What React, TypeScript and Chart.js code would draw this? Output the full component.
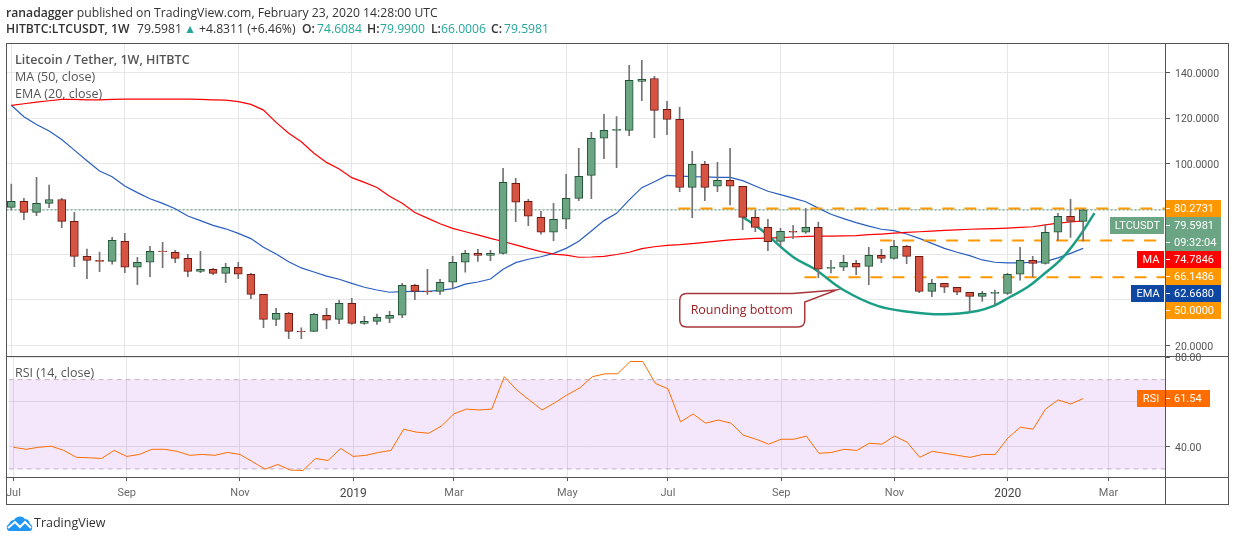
import { useEffect, useRef } from "react";
import { Chart, registerables } from "chart.js";

Chart.register(...registerables);

const opens = [
  80.7, 83.4, 78.5, 82.5, 84.2, 74.6, 59.2, 57.4, 57.0, 65.8,
  54.4, 56.6, 61.5, 60.9, 58.3, 52.6, 53.5, 51.7, 54.4, 51.3,
  42.5, 31.5, 34.1, 26.2, 26.2, 33.3, 31.5, 38.5, 29.7, 30.6,
  31.9, 33.3, 46.4, 43.8, 43.8, 47.8, 56.6, 60.5, 59.6, 60.5,
  91.3, 83.4, 76.3, 69.8, 75.5, 84.7, 94.8, 111.1, 114.6, 114.6,
  136.1, 137.4, 123.8, 119.4, 89.5, 99.6, 90.0, 92.6, 90.0, 76.3,
  71.9, 65.8, 70.2, 69.8, 71.9, 53.9, 54.4, 56.1, 54.8, 59.6,
  58.3, 63.6, 59.2, 43.8, 47.3, 45.6, 43.4, 41.6, 42.9, 42.9,
  51.3, 57.4, 56.1, 69.8, 76.8, 74.6,
];
const closes = [
  83.4, 78.5, 82.5, 84.2, 74.6, 59.2, 57.4, 57.0, 66.2, 54.4,
  56.6, 61.4, 61.2, 58.3, 52.6, 53.5, 51.7, 54.4, 51.3, 42.5,
  31.5, 34.1, 26.2, 26.1, 33.7, 31.1, 38.5, 29.7, 30.6, 32.4,
  33.3, 46.4, 43.8, 43.5, 47.8, 56.6, 60.5, 59.6, 60.5, 91.7,
  83.0, 76.8, 69.8, 75.5, 84.7, 94.4, 111.1, 114.6, 115.0, 136.6,
  137.0, 123.4, 119.4, 89.5, 99.6, 89.5, 92.6, 90.0, 76.3, 71.9,
  65.6, 70.2, 69.8, 71.9, 53.5, 54.4, 56.6, 54.4, 59.6, 58.3,
  63.6, 59.2, 43.8, 47.3, 45.6, 43.4, 41.6, 42.9, 43.4, 51.3,
  57.4, 56.1, 69.8, 76.8, 74.6, 79.6,
];
const highs = [
  91.0, 84.7, 93.9, 90.5, 84.7, 78.5, 62.4, 61.1, 67.5, 69.3,
  58.8, 63.6, 65.3, 61.8, 60.1, 61.4, 53.9, 56.1, 56.6, 51.7,
  42.5, 36.3, 34.6, 27.7, 34.1, 36.3, 39.8, 40.7, 32.8, 33.8,
  35.0, 47.3, 46.9, 53.5, 49.1, 59.2, 61.8, 62.3, 61.8, 97.9,
  93.5, 84.3, 79.0, 82.5, 95.2, 106.7, 113.7, 121.6, 120.7, 143.2,
  145.4, 138.3, 127.3, 124.7, 105.4, 101.0, 100.5, 106.7, 90.0, 79.4,
  75.5, 71.5, 72.8, 80.3, 74.3, 57.4, 59.6, 57.4, 63.2, 62.3,
  66.2, 64.0, 59.2, 49.1, 47.3, 45.6, 43.4, 43.8, 44.3, 51.7,
  63.2, 59.2, 73.3, 78.1, 84.3, 79.99,
];
const lows = [
  79.6, 75.3, 77.1, 80.6, 71.8, 54.6, 49.4, 52.4, 55.8, 52.0,
  46.7, 50.2, 54.2, 56.4, 50.2, 52.0, 51.1, 47.6, 49.4, 40.6,
  27.8, 28.7, 23.0, 23.0, 26.1, 27.4, 29.6, 29.2, 29.3, 29.2,
  30.0, 32.2, 40.1, 42.5, 42.5, 45.1, 52.2, 57.0, 57.3, 60.1,
  74.4, 72.7, 68.9, 66.1, 71.4, 83.7, 84.6, 102.1, 98.2, 112.2,
  127.6, 111.4, 112.7, 87.6, 76.2, 83.7, 87.6, 81.8, 70.9, 70.0,
  61.7, 63.5, 67.0, 69.3, 49.8, 51.9, 52.9, 51.1, 46.7, 56.4,
  57.9, 56.0, 43.2, 41.5, 43.2, 42.3, 35.0, 39.4, 38.1, 42.5,
  48.7, 50.3, 55.7, 66.2, 67.5, 66.0,
];
const ma50 = [
  125.6, 126.3, 127.0, 127.6, 128.2, 128.2, 128.0, 128.0, 128.2, 128.3,
  128.3, 128.3, 128.3, 128.3, 128.3, 128.2, 128.0, 127.9, 127.2, 126.0,
  123.5, 118.1, 113.3, 109.6, 104.5, 100.5, 97.6, 93.8, 91.7, 89.5,
  85.6, 82.5, 78.5, 76.0, 73.5, 71.5, 70.0, 68.6, 67.1, 65.7,
  64.2, 62.7, 61.3, 60.2, 59.7, 58.8, 58.9, 59.2, 60.0, 61.0,
  62.6, 63.4, 64.0, 64.3, 64.8, 65.3, 65.9, 66.4, 66.8, 67.1,
  67.2, 67.4, 67.7, 68.0, 68.1, 68.1, 68.2, 68.3, 68.7, 69.0,
  69.4, 69.7, 70.0, 70.3, 70.6, 70.8, 71.1, 71.3, 71.4, 71.6,
  71.9, 72.2, 73.0, 73.8, 74.3, 74.78,
];
const ema20 = [
  125.6, 120.6, 117.2, 114.3, 110.6, 105.9, 101.2, 96.7, 94.2, 90.1,
  87.2, 84.5, 82.5, 80.1, 76.9, 74.9, 72.8, 71.3, 69.3, 67.0,
  63.2, 60.2, 56.8, 54.1, 52.3, 50.5, 49.1, 47.3, 45.6, 44.4,
  43.4, 43.7, 43.8, 43.8, 44.2, 45.0, 47.0, 47.9, 49.2, 53.5,
  56.4, 57.9, 59.0, 60.5, 62.7, 65.8, 70.3, 74.9, 78.1, 84.0,
  89.4, 92.0, 94.8, 94.5, 94.2, 94.1, 93.9, 93.9, 92.5, 90.1,
  87.8, 86.3, 84.8, 83.2, 80.4, 77.7, 75.8, 74.0, 72.5, 71.1,
  70.5, 69.0, 67.1, 64.9, 62.7, 61.0, 59.5, 57.6, 56.6, 56.3,
  56.3, 56.6, 56.9, 58.5, 60.5, 62.67,
];
const rsi14 = [
  39.7, 38.8, 39.7, 40.2, 38.3, 35.2, 35.0, 34.7, 38.3, 35.6,
  36.5, 38.8, 38.8, 37.9, 36.1, 36.5, 36.1, 37.4, 36.5, 33.2,
  29.9, 32.0, 29.5, 29.3, 34.7, 33.8, 39.2, 35.6, 36.1, 37.4,
  38.3, 47.8, 46.5, 46.0, 49.2, 54.7, 56.8, 56.4, 56.8, 71.3,
  65.3, 60.8, 56.4, 59.6, 63.2, 66.3, 71.3, 72.6, 72.6, 78.1,
  78.1, 68.3, 65.9, 51.1, 54.6, 50.5, 51.9, 50.5, 45.1, 43.3,
  41.1, 43.3, 43.3, 44.7, 37.0, 37.4, 38.8, 38.3, 41.5, 41.1,
  44.7, 42.0, 35.2, 37.9, 37.0, 36.1, 35.2, 36.5, 36.5, 43.8,
  48.7, 47.8, 56.8, 60.9, 59.1, 61.54,
];

// hand drawn rounding bottom
const curveBars = [58.0, 59.4, 62.0, 63.7, 66.0, 68.7, 71.3, 73.9, 76.6, 77.9, 79.2, 80.6, 81.8, 83.2, 84.5, 85.9];
const curvePrices = [76.5, 71.2, 58.9, 53.6, 44.4, 37.4, 34.7, 33.7, 35.2, 37.4, 41.3, 45.7, 51.0, 57.6, 66.4, 78.2];

// support / resistance levels: price, first bar, last bar
const levelPrices = [80.2731, 66.1486, 50.0];
const levelStarts = [52.9, 68.9, 62.9];
const levelEnds = [91.57, 90.9, 91.57];

const lastPrice = 79.5981;
const tickBars = [0, 9, 18, 27, 35, 44, 52, 61, 70, 79, 87];
const tickLabels = ["Jul", "Sep", "Nov", "2019", "Mar", "May", "Jul", "Sep", "Nov", "2020", "Mar"];
const priceTicks = [20, 40, 60, 80, 100, 120, 140];
const rsiTicks = [40, 60, 80];

const tagValues = ["80.2731", "79.5981", "09:32:04", "74.7846", "66.1486", "62.6680", "50.0000"];
const tagNames = ["", "LTCUSDT", "", "MA", "", "EMA", ""];
const tagColors = ["#ff9800", "#6ba583", "#6ba583", "#ff0000", "#ff9800", "#0d47a1", "#ff9800"];
const tagNameWidths = [0, 55, 0, 28, 0, 34, 0];

const XMIN = -0.38;
const XMAX = 91.57;
const FONT = "Roboto, sans-serif";
const UI_FONT = "'Open Sans', sans-serif";
const TEXT = "#555555";
const GRID = "#e6e6e6";
const TEAL = "#26a69a";

const upColor = "#6ba583";
const upBorder = "#225437";
const downColor = "#d75442";
const downBorder = "#6b1a13";

const isUp = (i: number) => closes[i] >= opens[i];

const lineSet = (data: any[], color: string, order: number, extra: any = {}) => ({
  type: "line",
  data,
  borderColor: color,
  borderWidth: 1,
  pointRadius: 0,
  order,
  ...extra,
});

const priceTagsPlugin = {
  id: "priceTags",
  afterDraw(chart: any) {
    const ctx = chart.ctx;
    ctx.save();
    ctx.font = `11px ${FONT}`;
    ctx.textBaseline = "middle";
    tagValues.forEach((value, k) => {
      const top = 200 + k * 17;
      ctx.fillStyle = tagColors[k];
      ctx.fillRect(1166, top, 55, 17);
      ctx.fillStyle = "#ffffff";
      ctx.fillRect(1166, top + 8, 4, 1);
      ctx.fillText(value, 1174, top + 9);
      if (tagNames[k]) {
        const w = tagNameWidths[k];
        ctx.fillStyle = tagColors[k];
        ctx.fillRect(1165 - w, top, w - 1, 17);
        ctx.fillStyle = "#ffffff";
        ctx.textAlign = "center";
        ctx.fillText(tagNames[k], 1165 - w / 2, top + 9);
        ctx.textAlign = "left";
      }
    });
    ctx.restore();
  },
};

const calloutPlugin = {
  id: "callout",
  afterDatasetsDraw(chart: any) {
    const ctx = chart.ctx;
    // the tip points at the curve, the box hangs off it
    const tipX = chart.scales.x.getPixelForValue(65.46);
    const tipY = chart.scales.y.getPixelForValue(44.4);
    const left = tipX - 157;
    const right = tipX - 32;
    const top = tipY + 3.5;
    const bottom = tipY + 37;
    const r = 7;
    ctx.save();
    ctx.beginPath();
    ctx.moveTo(left + r, top);
    ctx.lineTo(right - 12, top);
    ctx.lineTo(tipX, tipY);
    ctx.lineTo(right, tipY + 12);
    ctx.lineTo(right, bottom - r);
    ctx.quadraticCurveTo(right, bottom, right - r, bottom);
    ctx.lineTo(left + r, bottom);
    ctx.quadraticCurveTo(left, bottom, left, bottom - r);
    ctx.lineTo(left, top + r);
    ctx.quadraticCurveTo(left, top, left + r, top);
    ctx.closePath();
    ctx.fillStyle = "#ffffff";
    ctx.fill();
    ctx.strokeStyle = "#a8383d";
    ctx.lineWidth = 1.5;
    ctx.stroke();
    ctx.fillStyle = "#9c1f26";
    ctx.font = `12.5px ${UI_FONT}`;
    ctx.textAlign = "center";
    ctx.textBaseline = "middle";
    ctx.fillText("Rounding bottom", (left + right) / 2 - 0.5, (top + bottom) / 2);
    ctx.restore();
  },
};

const rsiTagPlugin = {
  id: "rsiTag",
  afterDraw(chart: any) {
    const ctx = chart.ctx;
    const y = chart.scales.y.getPixelForValue(rsi14[rsi14.length - 1]);
    ctx.save();
    ctx.fillStyle = "#ff6d00";
    ctx.fillRect(1137, y - 8.5, 28, 17);
    ctx.fillRect(1166, y - 8.5, 44, 17);
    ctx.fillStyle = "#ffffff";
    ctx.fillRect(1166, y - 0.5, 4, 1);
    ctx.font = `11px ${FONT}`;
    ctx.textBaseline = "middle";
    ctx.textAlign = "center";
    ctx.fillText("RSI", 1151, y + 0.5);
    ctx.textAlign = "left";
    ctx.fillText("61.54", 1174, y + 0.5);
    ctx.restore();
  },
};

const xAxis = (showLabels: boolean, height: number) => ({
  type: "linear",
  min: XMIN,
  max: XMAX,
  offset: false,
  grid: {
    offset: false,
    color: GRID,
    drawTicks: showLabels,
    tickLength: 4,
    tickColor: TEXT,
  },
  border: { display: false },
  afterBuildTicks: (scale: any) => {
    scale.ticks = tickBars.map((value) => ({ value }));
  },
  afterFit: (scale: any) => {
    scale.height = height;
  },
  ticks: {
    display: showLabels,
    autoSkip: false,
    maxRotation: 0,
    padding: 6,
    color: (c: any) => (/^20/.test(c.tick.label) ? "#444444" : "#6a6a6a"),
    font: (c: any) => ({
      family: FONT,
      size: /^20/.test(String(c.tick?.label)) ? 12 : 11,
    }),
    callback: (value: number) => tickLabels[tickBars.indexOf(value)],
  },
});

const yAxis = (min: number, max: number, values: number[], digits: number, hide: number[]) => ({
  position: "right",
  min,
  max,
  grid: { color: GRID, tickLength: 4, tickColor: TEXT },
  border: { display: false },
  afterBuildTicks: (scale: any) => {
    scale.ticks = values.map((value) => ({ value }));
  },
  afterFit: (scale: any) => {
    scale.width = 68;
  },
  ticks: {
    color: TEXT,
    padding: 5,
    labelOffset: 1.5,
    font: { family: FONT, size: 10.5 },
    callback: (value: number) => (hide.includes(value) ? "" : value.toFixed(digits)),
  },
});

// second header line: text, left edge, colour, bold
const quoteTexts = ["HITBTC:LTCUSDT, 1W", "79.5981", "▲", "+4.8311 (+6.46%)", "O:", "74.6084", "H:", "79.9900", "L:", "66.0006", "C:", "79.5981"];
const quoteLefts = [6, 137, 184, 199, 302, 317, 367, 380, 431, 441, 491, 504];
const quoteColors = ["#333", "#333", TEAL, "#333", "#333", TEAL, "#333", TEAL, "#333", TEAL, "#333", TEAL];
const quoteBold = [true, false, false, false, true, false, true, false, true, false, true, false];

export default function App() {
  const priceRef = useRef<HTMLCanvasElement>(null);
  const rsiRef = useRef<HTMLCanvasElement>(null);

  useEffect(() => {
    if (!priceRef.current || !rsiRef.current) return;
    const bodyColors = opens.map((_, i) => (isUp(i) ? upColor : downColor));
    const bodyBorders = opens.map((_, i) => (isUp(i) ? upBorder : downBorder));

    const priceChart = new Chart(priceRef.current, {
      type: "bar",
      data: {
        datasets: [
          {
            data: opens.map((o, i) => ({ x: i, y: [o, closes[i]] })),
            backgroundColor: bodyColors,
            borderColor: bodyBorders,
            borderWidth: 1,
            borderSkipped: false,
            barThickness: 8,
            grouped: false,
            order: 1,
          },
          {
            data: lows.map((l, i) => ({ x: i, y: [l, highs[i]] })),
            backgroundColor: "#737375",
            barThickness: 1,
            grouped: false,
            order: 2,
          },
          lineSet(
            curveBars.map((x, i) => ({ x, y: curvePrices[i] })),
            "#1b9e85",
            3,
            { borderWidth: 2.5, tension: 0.4 }
          ),
          ...levelPrices.map((p, k) =>
            lineSet(
              [
                { x: levelStarts[k], y: p },
                { x: levelEnds[k], y: p },
              ],
              "#ff9800",
              4,
              { borderWidth: 2, borderDash: [12, 10] }
            )
          ),
          lineSet(ma50.map((y, x) => ({ x, y })), "#ff0000", 5, { borderWidth: 1.2 }),
          lineSet(ema20.map((y, x) => ({ x, y })), "#2a5fbf", 6, { borderWidth: 1.2 }),
          lineSet(
            [
              { x: XMIN, y: lastPrice },
              { x: XMAX, y: lastPrice },
            ],
            "#4f9a76",
            7,
            { borderDash: [2, 2] }
          ),
        ] as any,
      },
      options: {
        responsive: false,
        animation: false,
        layout: { padding: { left: 6.5, top: 43, right: 0, bottom: 24.3 } },
        plugins: { legend: { display: false }, tooltip: { enabled: false } },
        scales: {
          x: xAxis(false, 0),
          y: yAxis(15.5, 153, priceTicks, 4, []),
        } as any,
      },
      plugins: [calloutPlugin, priceTagsPlugin],
    });

    const rsiChart = new Chart(rsiRef.current, {
      type: "line",
      data: {
        datasets: [
          lineSet(rsi14.map((y, x) => ({ x, y })), "#ff6d00", 0),
          lineSet(
            [
              { x: XMIN, y: 70 },
              { x: XMAX, y: 70 },
            ],
            "#c3b5c9",
            1,
            { borderDash: [5, 4], fill: "+1", backgroundColor: "rgba(156, 39, 230, 0.11)" }
          ),
          lineSet(
            [
              { x: XMIN, y: 30 },
              { x: XMAX, y: 30 },
            ],
            "#c3b5c9",
            2,
            { borderDash: [5, 4] }
          ),
        ] as any,
      },
      options: {
        responsive: false,
        animation: false,
        layout: { padding: { left: 6.5, top: 20.7, right: 0, bottom: 37 } },
        plugins: { legend: { display: false }, tooltip: { enabled: false } },
        scales: {
          x: xAxis(true, 27),
          y: yAxis(26.4, 80.7, rsiTicks, 2, [60]),
        } as any,
      },
      plugins: [rsiTagPlugin],
    });

    return () => {
      priceChart.destroy();
      rsiChart.destroy();
    };
  }, []);

  const rule = (style: any) => (
    <div style={{ position: "absolute", background: "#555555", ...style }} />
  );
  const paneText = (text: string, top: number, bold = false) => (
    <div
      style={{
        position: "absolute",
        left: 15,
        top,
        fontSize: 12.5,
        lineHeight: "16px",
        color: TEXT,
        fontWeight: bold ? 600 : 400,
        whiteSpace: "nowrap",
      }}
    >
      {text}
    </div>
  );

  return (
    <div
      style={{
        position: "absolute",
        left: 0,
        top: 0,
        width: 1234,
        height: 541,
        background: "#ffffff",
        overflow: "hidden",
        fontFamily: UI_FONT,
      }}
    >
      <canvas ref={priceRef} width={1234} height={380} style={{ position: "absolute", left: 0, top: 0 }} />
      <canvas ref={rsiRef} width={1234} height={206} style={{ position: "absolute", left: 0, top: 335 }} />

      <div style={{ position: "absolute", left: 6, top: 4, fontSize: 12.2, lineHeight: "18px", color: "#333", whiteSpace: "nowrap" }}>
        <b style={{ fontWeight: 600 }}>ranadagger</b> published on TradingView.com, February 23, 2020 14:28:00 UTC
      </div>
      {quoteTexts.map((text, i) => (
        <span
          key={i}
          style={{
            position: "absolute",
            left: quoteLefts[i],
            top: 20,
            fontSize: 12.2,
            lineHeight: "18px",
            color: quoteColors[i],
            fontWeight: quoteBold[i] ? 600 : 400,
            whiteSpace: "nowrap",
          }}
        >
          {text}
        </span>
      ))}

      {paneText("Litecoin / Tether, 1W, HITBTC", 52, true)}
      {paneText("MA (50, close)", 69)}
      {paneText("EMA (20, close)", 86)}
      {paneText("RSI (14, close)", 365)}

      {rule({ left: 6, top: 43, width: 1222, height: 1 })}
      {rule({ left: 6, top: 356, width: 1222, height: 1 })}
      {rule({ left: 6, top: 477, width: 1222, height: 1 })}
      {rule({ left: 6, top: 504, width: 1222, height: 1 })}
      {rule({ left: 6, top: 43, width: 1, height: 462 })}
      {rule({ left: 1165, top: 43, width: 1, height: 462 })}
      {rule({ left: 1228, top: 43, width: 1, height: 462 })}

      <svg width="27" height="17" viewBox="0 0 27 17" style={{ position: "absolute", left: 6, top: 515 }}>
        <path
          d="M3 16 C0 15 0 10 3 9 C4 6 6 5 8 5 C10 1 16 0 19 4 C22 4 24 7 24 9 C27 10 27 15 24 16 Z"
          fill="#2196f3"
        />
        <path d="M2 13 L9 7 L14 12 L19 7 L25 13" fill="none" stroke="#ffffff" strokeWidth="2" />
      </svg>
      <div style={{ position: "absolute", left: 34, top: 514, fontSize: 12.5, lineHeight: "17px", color: "#333" }}>
        TradingView
      </div>
    </div>
  );
}
